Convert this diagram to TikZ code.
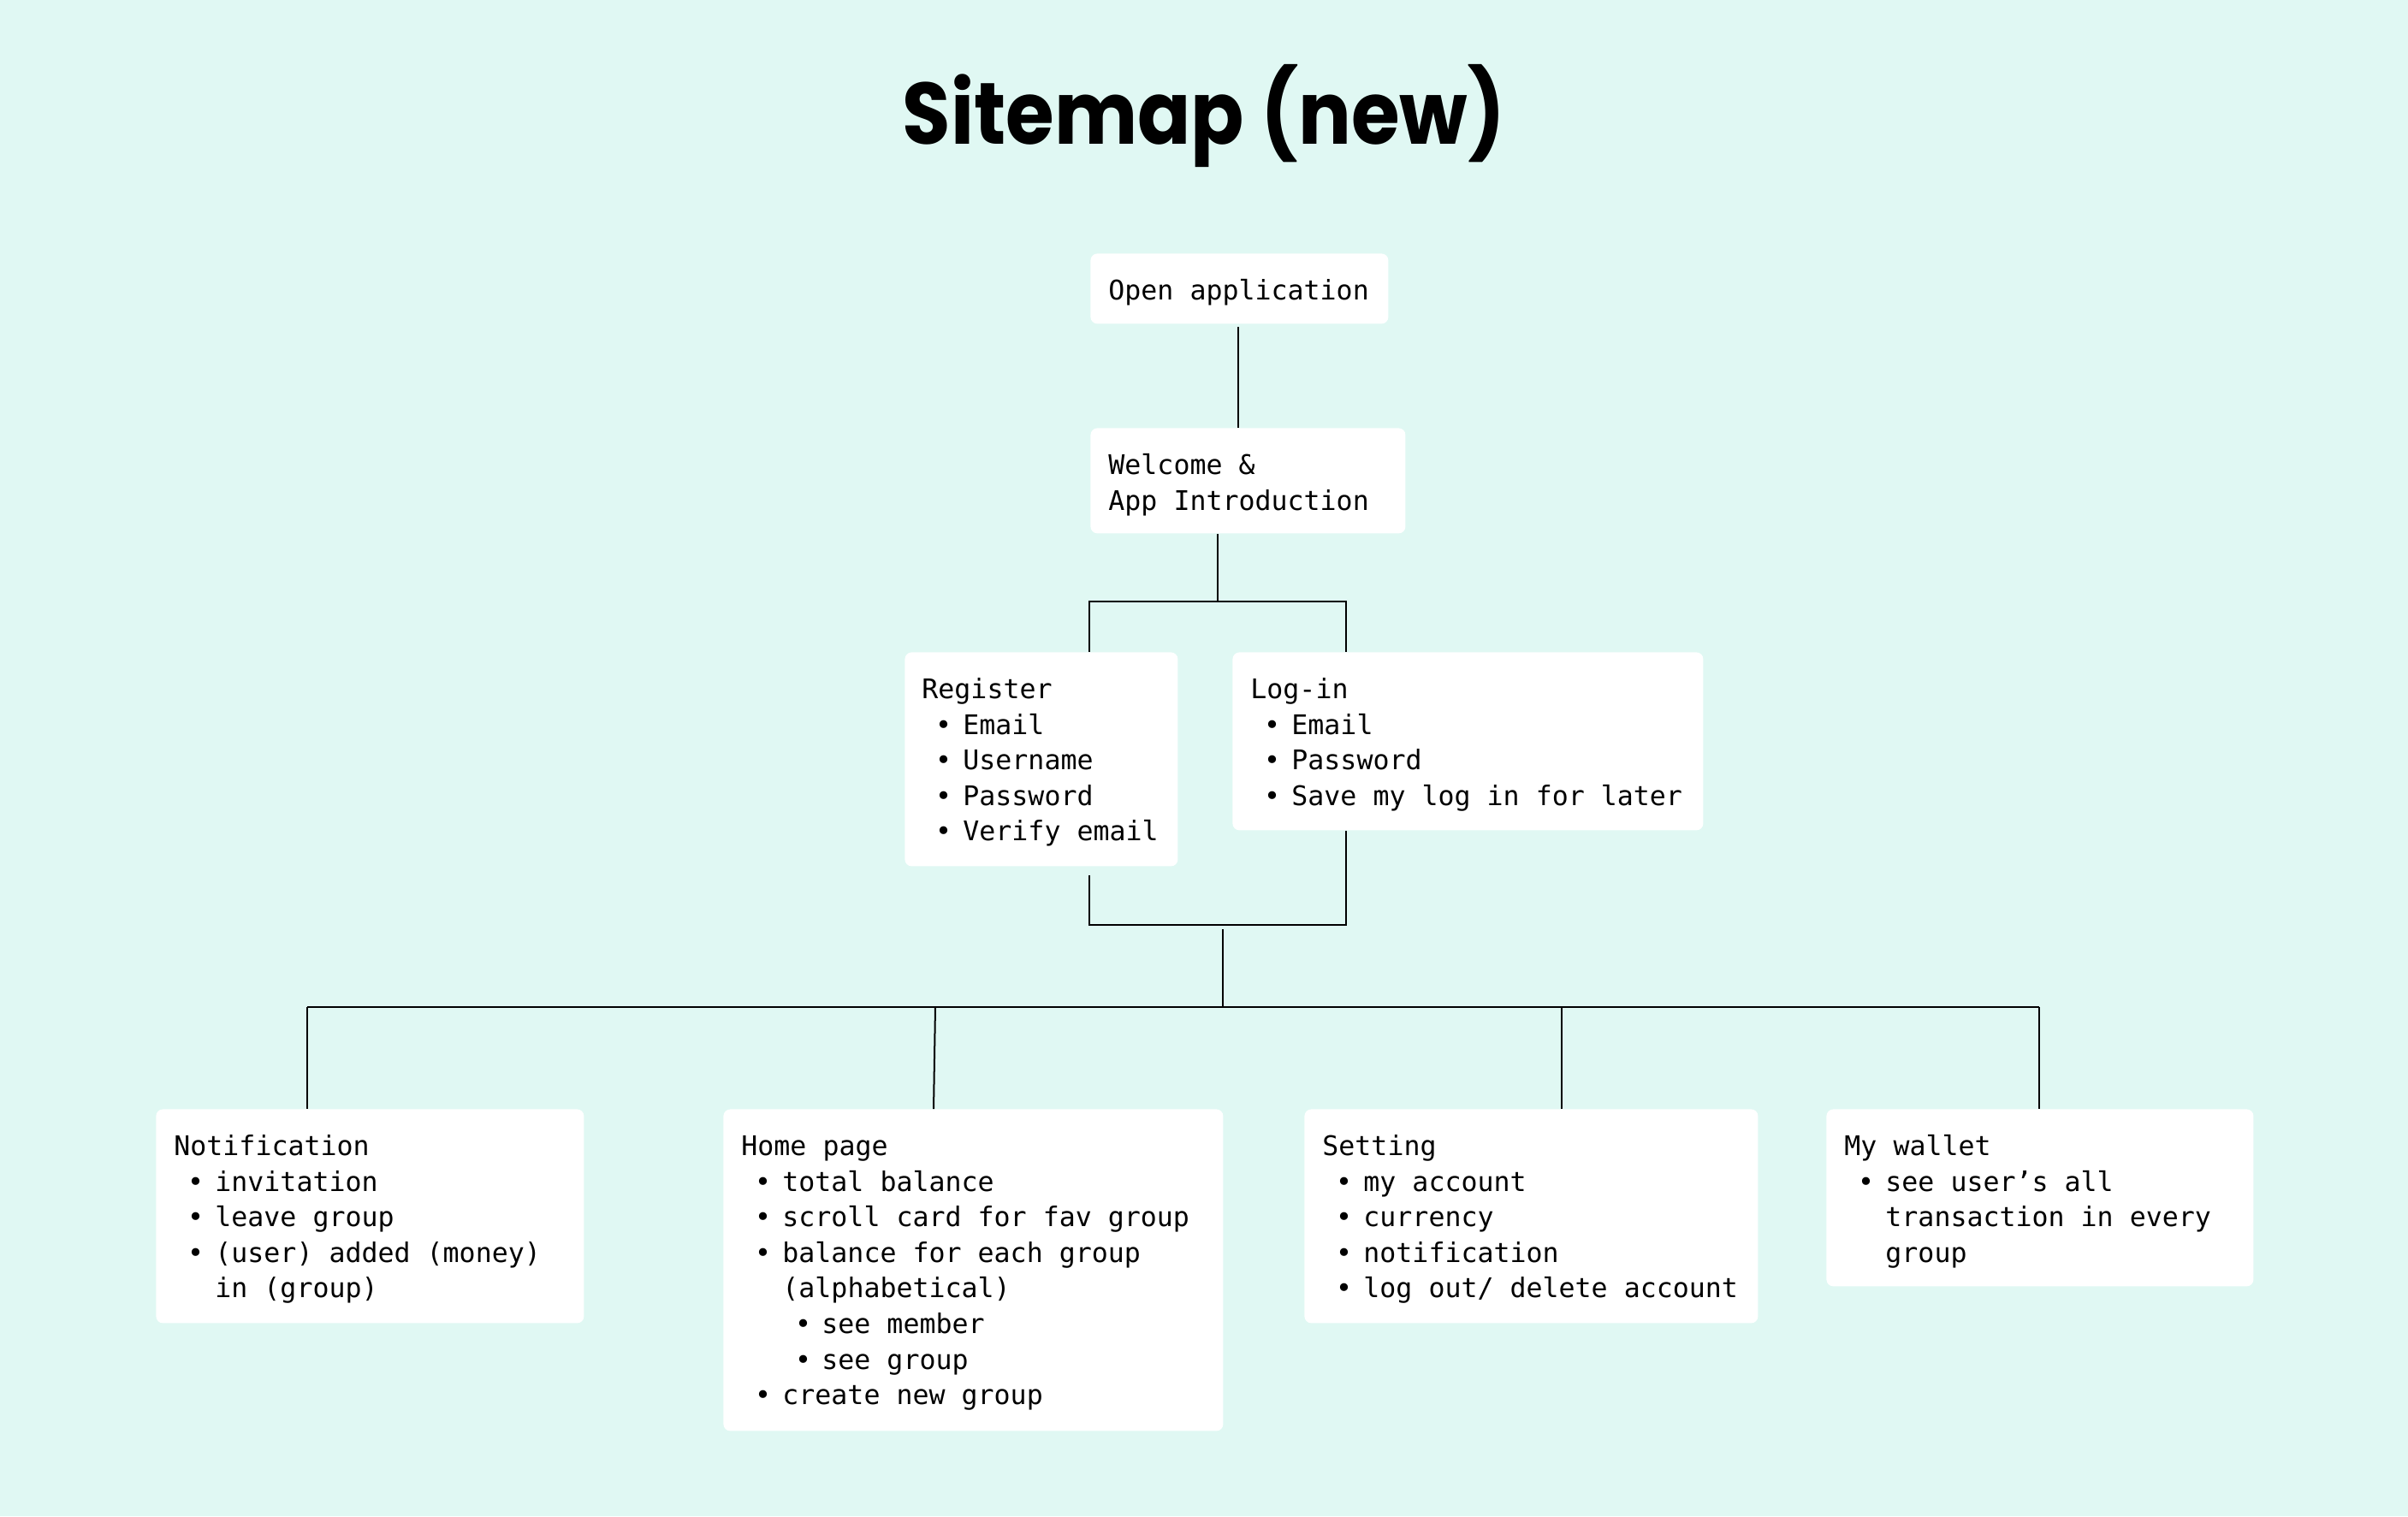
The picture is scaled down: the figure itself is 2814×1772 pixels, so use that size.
\documentclass[tikz,border=0pt]{standalone}
\usepackage{fontspec}
\setmonofont{DejaVu Sans Mono}
\newfontfamily\titlefont{Poppins}
\usetikzlibrary{calc}
\definecolor{bgmint}{RGB}{224,248,243}
\newcommand\mono{\ttfamily\fontsize{15.8pt}{20.8pt}\selectfont}
\newcommand\bi{\makebox[24pt][l]{\hspace*{7.8pt}•}}
\newcommand\bii{\makebox[47pt][l]{\hspace*{31.3pt}•}}
\newcommand\ci{\hspace*{24pt}}
\newcommand\fl{\rule{0pt}{14pt}}
\begin{document}
\begin{tikzpicture}[x=0.5pt,y=-0.5pt,
  card/.style={draw=none,fill=white,rounded corners=4pt,inner sep=0pt,anchor=north west},
  cardtext/.style={inner sep=0pt,anchor=north west,align=left,font=\mono,text=black},
  wire/.style={draw=black,line width=1pt}]
\fill[bgmint] (0,0) rectangle (2814,1772);
\useasboundingbox (0,0) rectangle (2814,1772);

\node[anchor=base,inner sep=0pt,font={\titlefont\bfseries\fontsize{51pt}{60pt}\selectfont}] (title) at (1407,168) {\scalebox{0.9}[1]{Sitemap (new)}};

% cards
\node[card,minimum width=174pt,minimum height=41pt] (open) at (1274,296) {};
\node[card,minimum width=184pt,minimum height=61.5pt] (welcome) at (1274,500) {};
\node[card,minimum width=159.5pt,minimum height=125pt] (reg) at (1057,762) {};
\node[card,minimum width=275pt,minimum height=104pt] (login) at (1440,762) {};
\node[card,minimum width=250pt,minimum height=125pt] (notif) at (182,1296) {};
\node[card,minimum width=292pt,minimum height=188pt] (home) at (845,1296) {};
\node[card,minimum width=265pt,minimum height=125pt] (set) at (1524,1296) {};
\node[card,minimum width=249.5pt,minimum height=103.5pt] (wallet) at (2134,1296) {};

% texts
\node[cardtext] (openT) at (1295,322) {\fl Open application};
\node[cardtext] (welcomeT) at (1295,526) {\fl Welcome \&\\App Introduction};
\node[cardtext] (regT) at (1077,788) {\fl Register\\\bi Email\\\bi Username\\\bi Password\\\bi Verify email};
\node[cardtext] (loginT) at (1461,788) {\fl Log-in\\\bi Email\\\bi Password\\\bi Save my log in for later};
\node[cardtext] (notifT) at (203,1322) {\fl Notification\\\bi invitation\\\bi leave group\\\bi (user) added (money)\\\ci in (group)};
\node[cardtext] (homeT) at (866,1322) {\fl Home page\\\bi total balance\\\bi scroll card for fav group\\\bi balance for each group\\\ci (alphabetical)\\\bii see member\\\bii see group\\\bi create new group};
\node[cardtext] (setT) at (1545,1322) {\fl Setting\\\bi my account\\\bi currency\\\bi notification\\\bi log out/ delete account};
\node[cardtext] (walletT) at (2155,1322) {\fl My wallet\\\bi see user’s all\\\ci transaction in every\\\ci group};

% junction coordinates
\coordinate (oa) at (1447,382);
\coordinate (j1) at (1423,703);
\coordinate (rl) at (1273,703);
\coordinate (rr) at (1573,703);
\coordinate (bl) at (1273,1081);
\coordinate (br) at (1573,1081);
\coordinate (m1) at (1429,1086);
\coordinate (m2) at (1429,1177);
\coordinate (h1) at (359,1177);
\coordinate (h2) at (1093,1177);
\coordinate (h3) at (1825,1177);
\coordinate (h4) at (2383,1177);
\coordinate (hb) at (1091,1296);

% connectors
\draw[wire] (oa) -- (oa |- welcome.north);
\draw[wire] (welcome.south -| j1) -- (j1);
\draw[wire] (rl |- reg.north) -- (rl) -- (rr) -- (rr |- login.north);
\draw[wire] ($(bl |- reg.south)+(0,10)$) -- (bl) -- (br) -- (br |- login.south);
\draw[wire] (m1) -- (m2);
\draw[wire] (h1) -- (h4);
\draw[wire] (h1) -- (h1 |- notif.north);
\draw[wire] (h2) -- (hb |- home.north);
\draw[wire] (h3) -- (h3 |- set.north);
\draw[wire] (h4) -- (h4 |- wallet.north);
\end{tikzpicture}
\end{document}
